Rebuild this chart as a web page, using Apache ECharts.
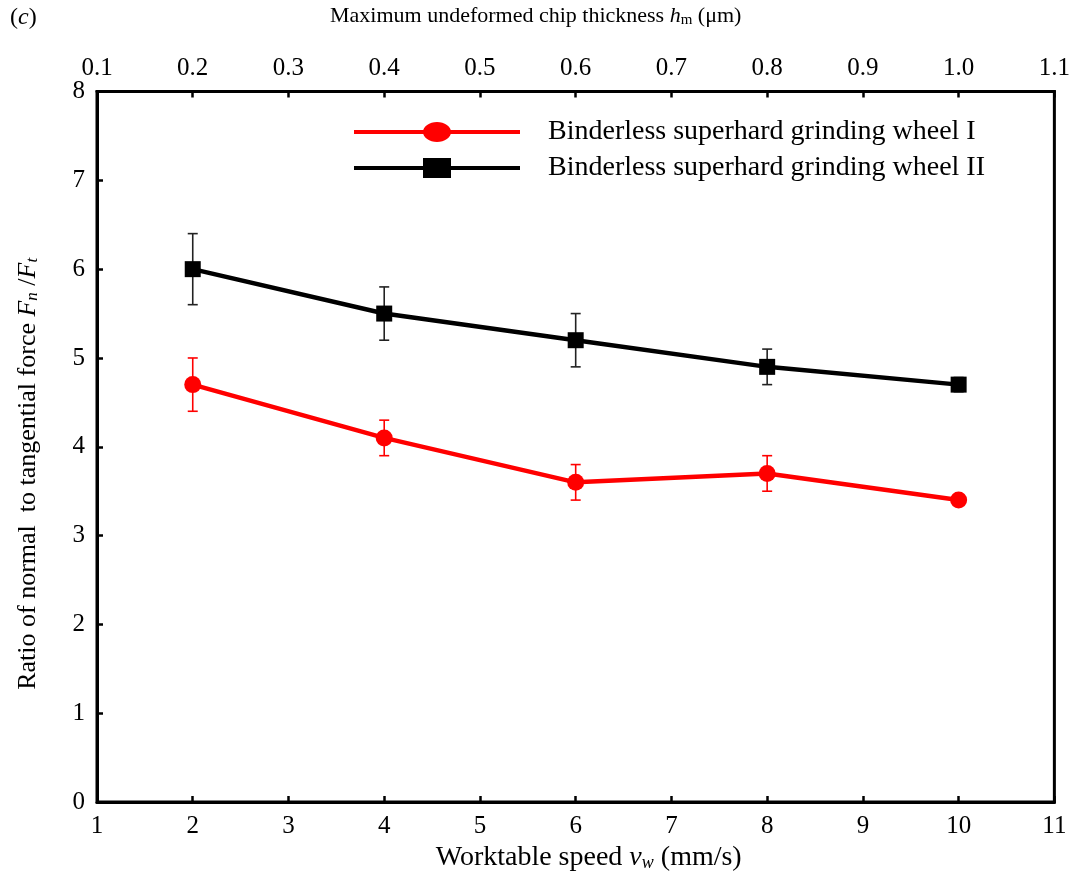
<!DOCTYPE html>
<html>
<head>
<meta charset="utf-8">
<script src="https://cdn.jsdelivr.net/npm/echarts@6/dist/echarts.min.js"></script>
<style>
  html, body { margin: 0; padding: 0; background: #fff; }
  #chart { width: 1073px; height: 877px; }
</style>
</head>
<body>
<div id="chart"></div>
<script>
// ---------------------------------------------------------------------------
// Data
// ---------------------------------------------------------------------------
const speeds = [2, 4, 6, 8, 10];                 // worktable speed v_w (mm/s)
const wheelI = [4.7, 4.1, 3.6, 3.7, 3.4];        // ratio Fn/Ft, wheel I
const wheelIErr = [0.3, 0.2, 0.2, 0.2, 0.05];
const wheelII = [6.0, 5.5, 5.2, 4.9, 4.7];       // ratio Fn/Ft, wheel II
const wheelIIErr = [0.4, 0.3, 0.3, 0.2, 0.08];
const topTickLabels = ["0.1", "0.2", "0.3", "0.4", "0.5", "0.6", "0.7", "0.8", "0.9", "1.0", "1.1"];

const FONT = "Liberation Serif";
const RED = "#ff0000";

// legend glyphs: line with a wide marker in the middle (as in the original)
const ICON_CIRCLE = "path://M2,8 L72,8 L72,12 L2,12 Z M98,8 L168,8 L168,12 L98,12 Z " +
  "M71,10 A14,10 0 1,1 99,10 A14,10 0 1,1 71,10 Z M0,0 L0,0 M170,20 L170,20";
const ICON_RECT = "path://M2,8 L72,8 L72,12 L2,12 Z M98,8 L168,8 L168,12 L98,12 Z " +
  "M71,0 L99,0 L99,20 L71,20 Z M0,0 L0,0 M170,20 L170,20";

function pairs(xs, ys) {
  return xs.map((x, i) => [x, ys[i]]);
}

function errData(xs, ys, es) {
  return xs.map((x, i) => [x, ys[i] - es[i], ys[i] + es[i]]);
}

// error bar drawn with the axis scale: vertical segment + two caps
function errorBar(color) {
  return (params, api) => {
    const lo = api.coord([api.value(0), api.value(1)]);
    const hi = api.coord([api.value(0), api.value(2)]);
    const cap = 5;
    const style = { stroke: color, lineWidth: 1.6 };
    return {
      type: "group",
      children: [
        { type: "line", shape: { x1: lo[0], y1: lo[1], x2: hi[0], y2: hi[1] }, style },
        { type: "line", shape: { x1: lo[0] - cap, y1: lo[1], x2: lo[0] + cap, y2: lo[1] }, style },
        { type: "line", shape: { x1: hi[0] - cap, y1: hi[1], x2: hi[0] + cap, y2: hi[1] }, style }
      ]
    };
  };
}

const chart = echarts.init(document.getElementById("chart"));

const axisCommon = {
  axisLine: { show: true, lineStyle: { color: "#000", width: 3 } },
  axisTick: { show: true, inside: true, length: 6, lineStyle: { color: "#000", width: 2.5 } },
  splitLine: { show: false },
  axisLabel: { color: "#000", fontFamily: FONT, fontSize: 25 }
};

chart.setOption({
  animation: false,
  backgroundColor: "#fff",
  textStyle: { fontFamily: FONT },
  grid: { left: 97, right: 15, top: 90, bottom: 72, show: true, borderColor: "#000", borderWidth: 3 },
  graphic: [
    {
      type: "text", left: 10, top: 6,
      style: {
        text: "({c|c})",
        font: `24px "${FONT}"`, fill: "#000",
        rich: { c: { fontStyle: "italic", fontSize: 24, fontFamily: FONT } }
      }
    }
  ],
  legend: {
    left: 347, top: 113, orient: "vertical",
    itemWidth: 170, itemHeight: 20, itemGap: 8,
    textStyle: { fontFamily: FONT, fontSize: 28, color: "#000", padding: [0, 0, 0, 21] },
    data: [
      { name: "Binderless superhard grinding wheel I", icon: ICON_CIRCLE, itemStyle: { color: RED } },
      { name: "Binderless superhard grinding wheel II", icon: ICON_RECT, itemStyle: { color: "#000" } }
    ]
  },
  xAxis: [
    {
      ...axisCommon,
      type: "value", position: "bottom", min: 1, max: 11, interval: 1,
      axisLabel: { ...axisCommon.axisLabel, margin: 12 },
      name: "Worktable speed {i|v}{sub|w} (mm/s)",
      nameLocation: "middle", nameGap: 40,
      nameTextStyle: {
        fontFamily: FONT, fontSize: 28, color: "#000", padding: [0, 0, 0, 26],
        rich: {
          i: { fontFamily: FONT, fontSize: 28, fontStyle: "italic" },
          sub: { fontFamily: FONT, fontSize: 18, fontStyle: "italic", verticalAlign: "bottom", padding: [9, 0, 0, 0] }
        }
      }
    },
    {
      ...axisCommon,
      type: "value", position: "top", min: 1, max: 11, interval: 1,
      axisLabel: {
        ...axisCommon.axisLabel, margin: 11,
        formatter: (v) => topTickLabels[Math.round(v) - 1]
      },
      name: "Maximum undeformed chip thickness {i|h}{sub|m} (μm)",
      nameLocation: "middle", nameGap: 64,
      nameTextStyle: {
        fontFamily: FONT, fontSize: 22, color: "#000", padding: [0, 80, 0, 0],
        rich: {
          i: { fontFamily: FONT, fontSize: 22, fontStyle: "italic" },
          sub: { fontFamily: FONT, fontSize: 15, verticalAlign: "bottom", padding: [8, 0, 0, 0] }
        }
      }
    }
  ],
  yAxis: {
    ...axisCommon,
    type: "value", min: 0, max: 8, interval: 1,
    axisLabel: { ...axisCommon.axisLabel, margin: 12 },
    name: "Ratio of normal  to tangential force {i|F}{sub|n} /{i|F}{sub|t}",
    nameLocation: "middle", nameRotate: 90, nameGap: 56,
    nameTextStyle: {
      fontFamily: FONT, fontSize: 26, color: "#000", padding: [0, 54, 0, 0],
      rich: {
        i: { fontFamily: FONT, fontSize: 26, fontStyle: "italic" },
        sub: { fontFamily: FONT, fontSize: 17, fontStyle: "italic", verticalAlign: "bottom", padding: [9, 0, 0, 0] }
      }
    }
  },
  series: [
    {
      name: "Binderless superhard grinding wheel I",
      type: "line", xAxisIndex: 0,
      data: pairs(speeds, wheelI),
      symbol: "circle", symbolSize: 17,
      lineStyle: { color: RED, width: 4.5 },
      itemStyle: { color: RED },
      z: 3
    },
    {
      name: "Binderless superhard grinding wheel II",
      type: "line", xAxisIndex: 0,
      data: pairs(speeds, wheelII),
      symbol: "rect", symbolSize: 16,
      lineStyle: { color: "#000", width: 4.5 },
      itemStyle: { color: "#000" },
      z: 3
    },
    {
      type: "custom", xAxisIndex: 0,
      data: errData(speeds, wheelI, wheelIErr),
      renderItem: errorBar(RED), z: 2, silent: true
    },
    {
      type: "custom", xAxisIndex: 0,
      data: errData(speeds, wheelII, wheelIIErr),
      renderItem: errorBar("#222"), z: 2, silent: true
    }
  ]
});
</script>
</body>
</html>
